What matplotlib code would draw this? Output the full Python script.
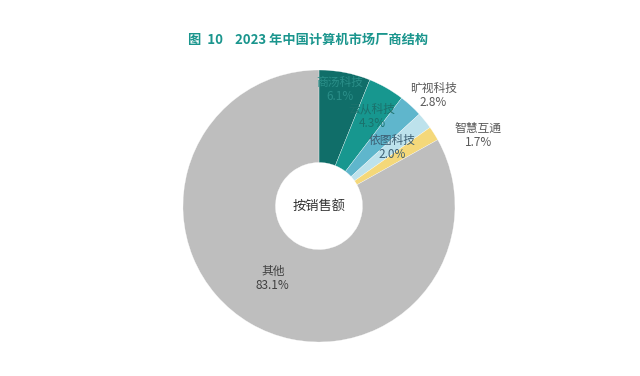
import matplotlib
matplotlib.use("Agg")
import matplotlib.pyplot as plt

plt.rcParams['font.family'] = ['Noto Sans CJK SC', 'DejaVu Sans']

# data
vendors = ["商汤科技", "云从科技", "旷视科技", "依图科技", "智慧互通", "其他"]
shares = [6.1, 4.3, 2.8, 2.0, 1.7, 83.1]
colors = ["#106e69", "#17978f", "#5fb6cc", "#bde2ec", "#f4d87a", "#bebebe"]
# label anchor (x, y) in pie units, radius = 1
label_pos = [(0.154, 0.86), (0.39, 0.66), (0.84, 0.81), (0.54, 0.43), (1.17, 0.52), (-0.34, -0.53)]
label_color = ["#2a8e88", "#1b716c", "#595959", "#3d5f73", "#595959", "#404040"]

fig = plt.figure(figsize=(6.4, 3.76), dpi=100)
fig.patch.set_facecolor("white")

ax = fig.add_axes([0.2859, 0.0904, 0.425, 0.7234])
ax.pie(shares, colors=colors, startangle=90, counterclock=False,
       wedgeprops=dict(width=0.68, edgecolor="white", linewidth=0.2))
ax.set_xlim(-1, 1)
ax.set_ylim(-1, 1)
ax.set_aspect("equal")

for name, val, (x, y), c in zip(vendors, shares, label_pos, label_color):
    ax.text(x, y, f"{name}\n{val:.1f}%", ha="center", va="center",
            fontsize=8.5, color=c, linespacing=1.1, clip_on=False)

ax.text(0, 0, "按销售额", ha="center", va="center", fontsize=9.5, color="#333333")

fig.text(0.482, 0.895, "图  10    2023 年中国计算机市场厂商结构", ha="center", va="center",
         fontsize=9.5, fontweight="bold", color="#1a958d")

fig.savefig("out.png", dpi=100)
